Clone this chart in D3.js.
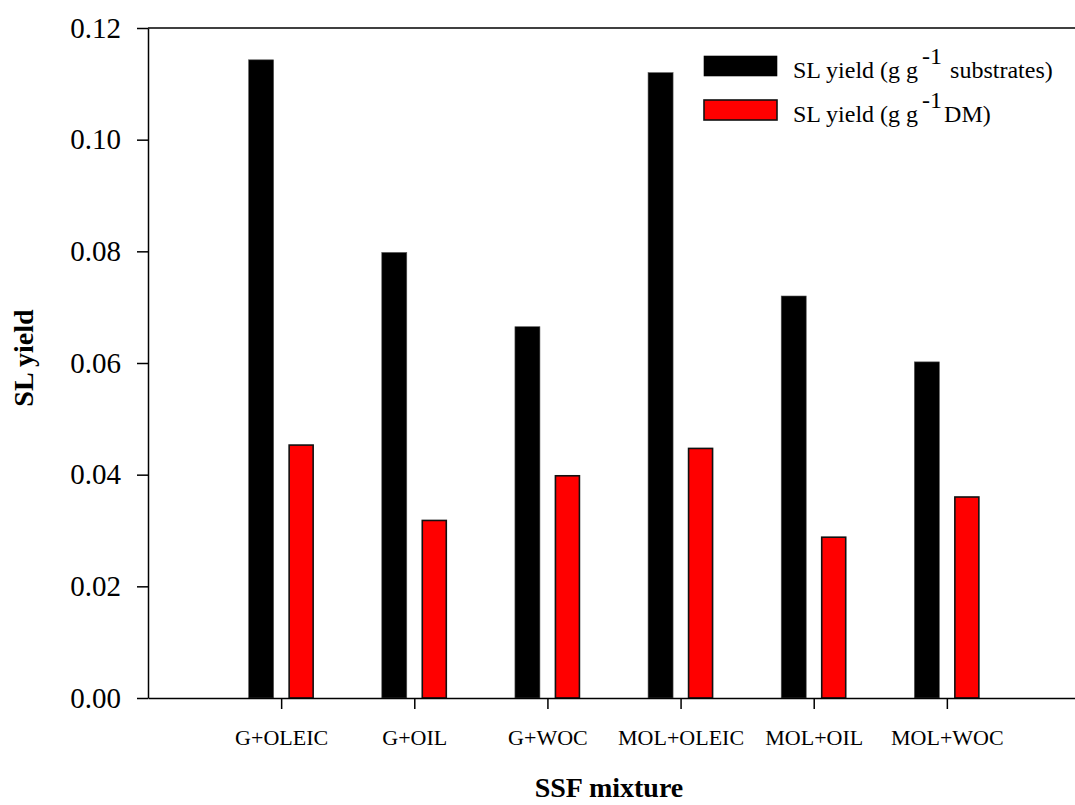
<!DOCTYPE html>
<html>
<head>
<meta charset="utf-8">
<script src="https://cdn.jsdelivr.net/npm/d3@7"></script>
<style>
  body { margin: 0; background: #fff; }
  svg text { font-family: "Liberation Serif", "DejaVu Serif", serif !important; fill: #000; }
</style>
</head>
<body>
<div id="chart"></div>
<script>
var categories = ["G+OLEIC", "G+OIL", "G+WOC", "MOL+OLEIC", "MOL+OIL", "MOL+WOC"];
var substrateYield = [0.1143, 0.0798, 0.0665, 0.1120, 0.0720, 0.0602];
var dmYield = [0.0453, 0.0318, 0.0398, 0.0447, 0.0288, 0.0360];
var yTicks = [0, 0.02, 0.04, 0.06, 0.08, 0.10, 0.12];

var svgWidth = 1075, svgHeight = 805;
var margin = {top: 28, right: -5, bottom: 107, left: 148};
var width = svgWidth - margin.left - margin.right;
var height = svgHeight - margin.top - margin.bottom;
var serif = "Liberation Serif, DejaVu Serif, serif";

var svg = d3.select("#chart").append("svg")
    .attr("width", svgWidth).attr("height", svgHeight)
    .attr("font-family", serif);

var chartGroup = svg.append("g")
    .attr("transform", `translate(${margin.left}, ${margin.top})`);

var x = d3.scalePoint().domain(categories).range([0, width]).padding(1);
var y = d3.scaleLinear().domain([0, 0.12]).range([height, 0]);

var barW = 25;

// black bars
chartGroup.selectAll(".barA").data(categories).enter().append("rect")
    .attr("class", "barA")
    .attr("x", d => x(d) - 32.5).attr("width", barW)
    .attr("y", (d, i) => y(substrateYield[i]))
    .attr("height", (d, i) => height - y(substrateYield[i]))
    .attr("fill", "#000").attr("stroke", "#555").attr("stroke-width", 0.6);

// red bars
chartGroup.selectAll(".barB").data(categories).enter().append("rect")
    .attr("class", "barB")
    .attr("x", d => x(d) + 8).attr("width", barW - 1)
    .attr("y", (d, i) => y(dmYield[i]))
    .attr("height", (d, i) => height - y(dmYield[i]))
    .attr("fill", "#ff0000").attr("stroke", "#111").attr("stroke-width", 1.6);

// axes
var leftAxis = d3.axisLeft(y).tickValues(yTicks).tickFormat(d3.format(".2f"))
    .tickSizeInner(11).tickSizeOuter(0).tickPadding(16);
var bottomAxis = d3.axisBottom(x).tickSizeInner(11).tickSizeOuter(0).tickPadding(20);

var gy = chartGroup.append("g").call(leftAxis).attr("font-family", serif);
gy.selectAll("text").attr("font-size", 29).attr("font-family", serif);
var gx = chartGroup.append("g").attr("transform", `translate(0, ${height})`).call(bottomAxis)
    .attr("font-family", serif);
gx.selectAll("text").attr("font-size", 22).attr("dy", "0.71em").attr("font-family", serif);

chartGroup.selectAll(".domain, .tick line").attr("stroke", "#000").attr("stroke-width", 1.5);

// top frame line
chartGroup.append("line")
    .attr("x1", 0).attr("x2", width).attr("y1", 0).attr("y2", 0)
    .attr("stroke", "#000").attr("stroke-width", 1.5);

// axis titles
chartGroup.append("text")
    .attr("transform", `translate(${width / 2 - 5}, ${height + 99})`)
    .attr("text-anchor", "middle").attr("font-size", 28).attr("font-weight", "bold")
    .attr("font-family", serif)
    .text("SSF mixture");

chartGroup.append("text")
    .attr("transform", "rotate(-90)")
    .attr("x", 0 - height / 2 + 5).attr("y", 0 - margin.left + 33)
    .attr("text-anchor", "middle").attr("font-size", 28).attr("font-weight", "bold")
    .attr("font-family", serif)
    .text("SL yield");

// legend
var legend = svg.append("g").attr("transform", "translate(704, 56)");
var legendItems = [
    {fill: "#000", stroke: "#000", sw: 0.6, label: "SL yield (g g", sup: "-1", tail: " substrates)"},
    {fill: "#ff0000", stroke: "#111", sw: 1.6, label: "SL yield (g g", sup: "-1", tail: "DM)"}
];
legendItems.forEach((it, i) => {
    var g = legend.append("g").attr("transform", `translate(0, ${i * 44})`);
    g.append("rect").attr("width", 73).attr("height", 20)
        .attr("fill", it.fill).attr("stroke", it.stroke).attr("stroke-width", it.sw);
    var t = g.append("text").attr("x", 89).attr("y", 22).attr("font-size", 24)
        .attr("font-family", serif);
    t.append("tspan").text(it.label);
    t.append("tspan").text(it.sup).attr("dy", -14).attr("dx", 4);
    t.append("tspan").text(it.tail).attr("dy", 14).attr("dx", 2);
});
</script>
</body>
</html>
